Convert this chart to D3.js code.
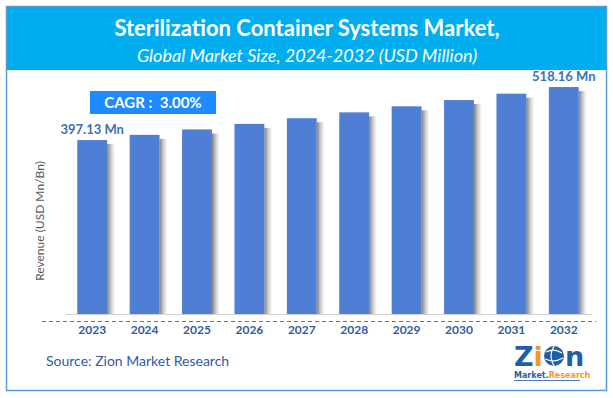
<!DOCTYPE html>
<html>
<head>
<meta charset="utf-8">
<script src="https://cdn.jsdelivr.net/npm/d3@7"></script>
<style>
  body { margin: 0; background: #fff; }
  svg { display: block; font-family: Lato, "Open Sans", sans-serif; }
</style>
</head>
<body>
<div id="chart"></div>
<script>
const years = ["2023", "2024", "2025", "2026", "2027", "2028", "2029", "2030", "2031", "2032"];
const revenue = [397.13, 409.04, 421.31, 433.95, 446.97, 460.38, 474.19, 488.42, 503.07, 518.16];
const valueLabels = ["397.13 Mn", "", "", "", "", "", "", "", "", "518.16 Mn"];
const titleText = "Sterilization Container Systems Market,";
const subtitleText = "Global Market Size, 2024-2032 (USD Million)";
const cagrText = "CAGR :  3.00%";

const W = 613, H = 398;
const svg = d3.select("#chart").append("svg")
  .attr("width", W)
  .attr("height", H);

const defs = svg.append("defs");
const shade = defs.append("linearGradient").attr("id", "shade");
shade.append("stop").attr("offset", "0%").attr("stop-color", "#555").attr("stop-opacity", 0.75);
shade.append("stop").attr("offset", "100%").attr("stop-color", "#999").attr("stop-opacity", 0);

// frame + header
svg.append("rect")
  .attr("x", 6.5).attr("y", 6.5)
  .attr("width", 600).attr("height", 384)
  .attr("fill", "#fff")
  .attr("stroke", "#5b9bd5")
  .attr("stroke-width", 1.5);
svg.append("rect")
  .attr("x", 7).attr("y", 7)
  .attr("width", 599).attr("height", 63)
  .attr("fill", "#00aeef");
svg.append("text")
  .attr("x", 307).attr("y", 36)
  .attr("text-anchor", "middle")
  .attr("fill", "#fff")
  .attr("font-size", 22)
  .attr("font-weight", "bold")
  .text(titleText);
svg.append("text")
  .attr("x", 307).attr("y", 62)
  .attr("text-anchor", "middle")
  .attr("fill", "#fff")
  .attr("font-size", 18)
  .attr("font-style", "italic")
  .text(subtitleText);

// scales
const x = d3.scaleBand()
  .domain(years)
  .range([66, 590])
  .paddingInner(0.43)
  .paddingOuter(0.215);
const y = d3.scaleLinear()
  .domain([0, 600])
  .range([314, 314 - 0.438 * 600]);

// bar shadows
svg.append("g").selectAll("rect")
  .data(revenue)
  .join("rect")
  .attr("x", (d, i) => x(years[i]) + x.bandwidth())
  .attr("y", d => y(d) + 4)
  .attr("width", 8)
  .attr("height", d => y(0) - y(d) - 4)
  .attr("fill", "url(#shade)");

// bars
svg.append("g").selectAll("rect")
  .data(revenue)
  .join("rect")
  .attr("x", (d, i) => x(years[i]))
  .attr("y", d => y(d))
  .attr("width", x.bandwidth())
  .attr("height", d => y(0) - y(d))
  .attr("fill", "#4f7fd4");

// value labels
svg.append("g").selectAll("text")
  .data(revenue)
  .join("text")
  .attr("x", (d, i) => x(years[i]) + x.bandwidth() / 2)
  .attr("y", d => y(d) - 6)
  .attr("text-anchor", "middle")
  .attr("fill", "#3b6fb6")
  .attr("font-size", 13)
  .attr("font-weight", "bold")
  .text((d, i) => valueLabels[i]);

// baseline
svg.append("line")
  .attr("x1", 66).attr("x2", 592)
  .attr("y1", 314.5).attr("y2", 314.5)
  .attr("stroke", "#d0d0d0");

// x axis (dashed)
const xAxis = svg.append("g")
  .attr("transform", "translate(0,321)")
  .call(d3.axisBottom(x).tickSize(0).tickPadding(4));
xAxis.select(".domain")
  .attr("d", "M42,0.5H596")
  .attr("stroke", "#4a78c0")
  .attr("stroke-dasharray", "4,3");
xAxis.selectAll("text")
  .attr("fill", "#2f5c9e")
  .attr("font-size", 12)
  .attr("font-weight", "bold")
  .attr("font-family", "Lato, 'Open Sans', sans-serif");

// y label
svg.append("text")
  .attr("transform", "translate(44,221) rotate(-90)")
  .attr("text-anchor", "middle")
  .attr("fill", "#595959")
  .attr("font-size", 12)
  .text("Revenue (USD Mn/Bn)");

// CAGR box
svg.append("rect")
  .attr("x", 90).attr("y", 91)
  .attr("width", 126).attr("height", 23)
  .attr("fill", "#1e8bff");
svg.append("text")
  .attr("x", 153).attr("y", 108)
  .attr("text-anchor", "middle")
  .attr("fill", "#fff")
  .attr("font-size", 15)
  .attr("font-weight", "bold")
  .attr("xml:space", "preserve")
  .text(cagrText);

// source
svg.append("text")
  .attr("x", 46).attr("y", 366)
  .attr("fill", "#2f5c9e")
  .attr("font-size", 14)
  .text("Source: Zion Market Research");

// logo
const logo = svg.append("g").attr("transform", "translate(514,344)");
logo.append("text")
  .attr("x", 0).attr("y", 22)
  .attr("font-size", 27)
  .attr("font-weight", "bold")
  .attr("font-family", "'DejaVu Sans', sans-serif")
  .call(t => {
    t.append("tspan").attr("fill", "#1f5fa8").text("Z");
    t.append("tspan").attr("fill", "#f39a1e").text("i");
  });
logo.append("circle")
  .attr("cx", 40).attr("cy", 12).attr("r", 10)
  .attr("fill", "#1f5fa8");
logo.append("path")
  .attr("d", "M32,8 Q40,4 48,9 M31,15 Q40,19 49,14 M40,2 Q34,12 40,22")
  .attr("fill", "none")
  .attr("stroke", "#fff")
  .attr("stroke-width", 1.2);
logo.append("text")
  .attr("x", 51).attr("y", 22)
  .attr("fill", "#1f5fa8")
  .attr("font-size", 27)
  .attr("font-weight", "bold")
  .attr("font-family", "'DejaVu Sans', sans-serif")
  .text("n");
logo.append("text")
  .attr("x", 0).attr("y", 34)
  .attr("font-size", 8)
  .attr("font-weight", "bold")
  .attr("font-family", "'DejaVu Sans', sans-serif")
  .call(t => {
    t.append("tspan").attr("fill", "#1f5fa8").text("Market.");
    t.append("tspan").attr("fill", "#f39a1e").text("Research");
  });
logo.append("line")
  .attr("x1", 0).attr("x2", 66)
  .attr("y1", 36.5).attr("y2", 36.5)
  .attr("stroke", "#1f5fa8")
  .attr("stroke-width", 0.8);
</script>
</body>
</html>
